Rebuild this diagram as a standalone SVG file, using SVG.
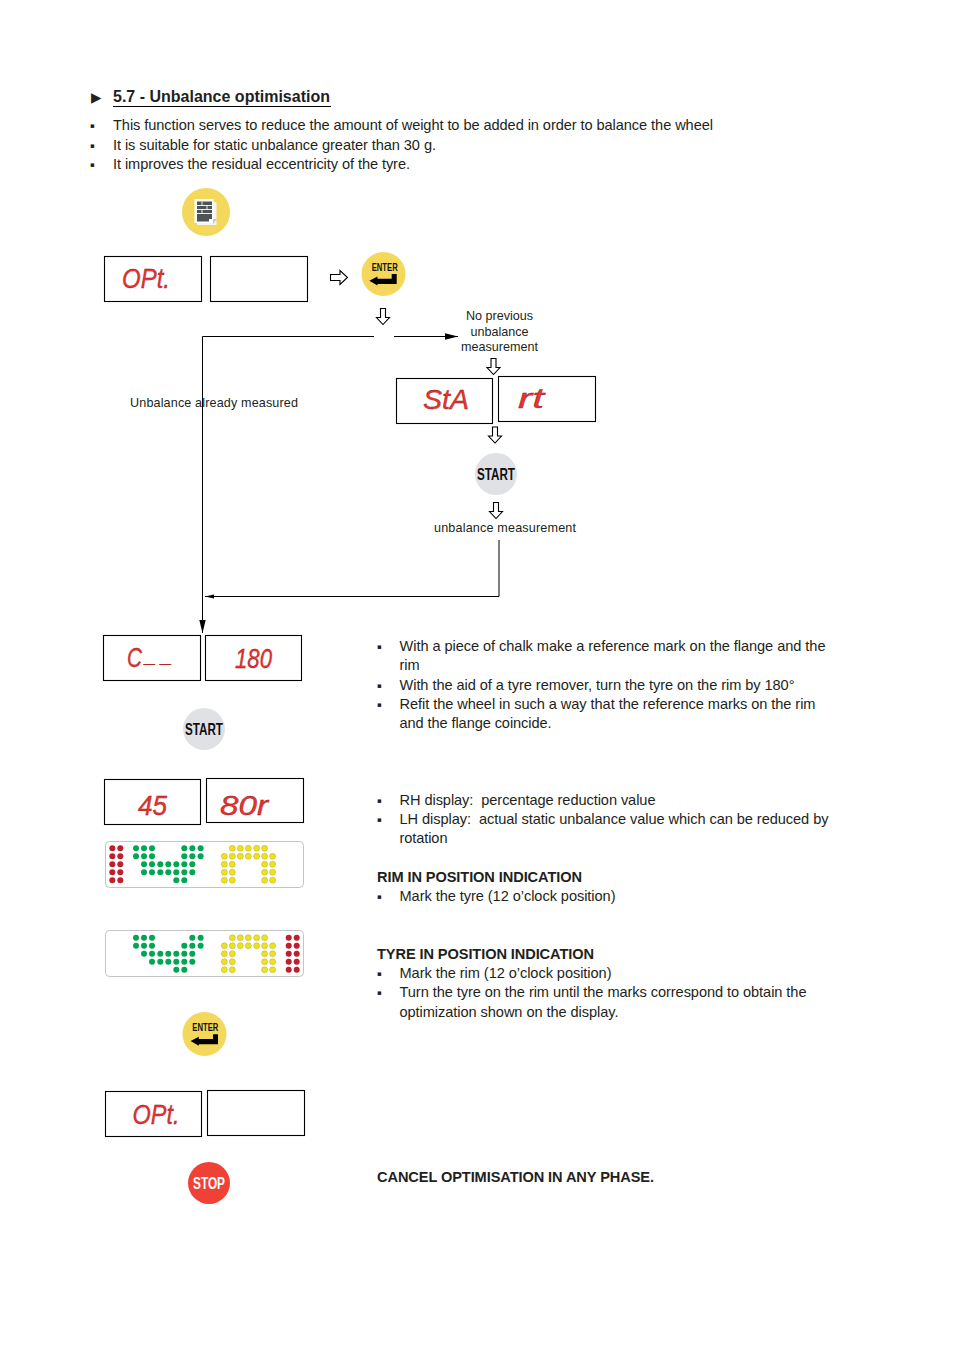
<svg xmlns="http://www.w3.org/2000/svg" xmlns:xlink="http://www.w3.org/1999/xlink" width="954" height="1351" viewBox="0 0 954 1351">
<style>
text{font-family:"Liberation Sans",Arial,sans-serif;fill:#231f20}
.b{font-size:14.6px;white-space:pre}
.s{font-size:12.6px}
.h{font-size:14.6px;font-weight:bold}
.bu{font-size:7px;font-family:"DejaVu Sans",sans-serif}
.box{fill:#fff;stroke:#000;stroke-width:1.1}
.led{font-style:italic;font-size:28px;fill:#e8322c;stroke:#8c1d1d;stroke-width:.35}
.btn{font-weight:bold;fill:#111}
.conn{fill:none;stroke:#000;stroke-width:1}
.hol{fill:#fff;stroke:#000;stroke-width:1.1;stroke-linejoin:miter}
.yc{fill:#f3d85c}
.gc{fill:#dfe1e4}
.pan{fill:#fff;stroke:#c4c4c4;stroke-width:1}
.r{fill:#bd1f2d}.g{fill:#00a651}.y{fill:#eee21c;stroke:#b5ad3a;stroke-width:.5}
</style>
<defs>
<marker id="ah" markerUnits="userSpaceOnUse" markerWidth="14" markerHeight="8" refX="13" refY="4" orient="auto"><path d="M0 .8L13 4L0 7.2Z" fill="#000"/></marker>
<marker id="as" markerUnits="userSpaceOnUse" markerWidth="10" markerHeight="6" refX="9" refY="3" orient="auto"><path d="M0 1L9 3L0 5Z" fill="#000"/></marker>
<path id="hd" d="M-2.500 0V9H-6.500L0 16L6.500 9H2.500V0Z"/>
<path id="ent" d="M7.700 -4H12.700V6H-6.500V7.500L-14.700 2.700L-6.500 -1.500V.7H7.700Z" fill="#000"/>
</defs>

<g id="header">
<text x="91" y="102" style="font-size:13.500px;font-family:'DejaVu Sans',sans-serif">▶</text>
<text x="113" y="102" style="font-size:16px;font-weight:bold" textLength="217">5.7 - Unbalance optimisation</text>
<line x1="113" y1="106.500" x2="331" y2="106.500" stroke="#000" stroke-width="1"/>
<text class="bu" x="90" y="128">▪</text><text class="b" x="113" y="130" textLength="600">This function serves to reduce the amount of weight to be added in order to balance the wheel</text>
<text class="bu" x="90" y="148">▪</text><text class="b" x="113" y="150" textLength="323">It is suitable for static unbalance greater than 30 g.</text>
<text class="bu" x="90" y="167">▪</text><text class="b" x="113" y="169" textLength="297">It improves the residual eccentricity of the tyre.</text>
</g>

<g id="connectors">
<path class="conn" d="M374 336.500H202.500V633" marker-end="url(#ah)"/>
<path class="conn" d="M394 336.500H458" marker-end="url(#ah)"/>
<path class="conn" d="M499 540V596.500H205" marker-end="url(#as)"/>
<use xlink:href="#hd" class="hol" x="383" y="308.500"/>
<use xlink:href="#hd" class="hol" x="493.500" y="358.500"/>
<use xlink:href="#hd" class="hol" x="495" y="427"/>
<use xlink:href="#hd" class="hol" x="496" y="502.500"/>
<path class="hol" d="M330.500 274.500H340V270.500L347.500 277.500L340 284.500V280.500H330.500Z"/>
</g>

<g id="menu-button">
<circle class="yc" cx="206" cy="212" r="24"/>
<path d="M197 202H216.500V225H197Z" fill="#f4f4f2"/>
<rect x="194.500" y="199" width="19" height="24" fill="#fff"/>
<path d="M213 219H217L213 224Z" fill="#c5c8ca"/>
<rect x="197" y="201.500" width="15" height="20" fill="#4d5356"/>
<path d="M197 205.500H212M197 209.500H212M197 213.500H212M202 201.500V205.500M207 205.500V209.500M202 209.500V213.500" stroke="#fff" stroke-width=".9" fill="none"/>
<path d="M209 219H212V222H209Z" fill="#fff"/>
</g>
<g id="display-opt1"><rect class="box" x="104.500" y="256.500" width="97" height="45"/><rect class="box" x="210.500" y="256.500" width="97" height="45"/><text class="led" x="122" y="288" textLength="48" lengthAdjust="spacingAndGlyphs">OPt.</text></g>
<g id="enter-1"><circle class="yc" cx="383.500" cy="274" r="22"/><text class="btn" x="371.700" y="270.500" style="font-size:10px" textLength="26" lengthAdjust="spacingAndGlyphs">ENTER</text><use xlink:href="#ent" x="384" y="278"/></g>

<g id="no-previous"><text class="s" x="499.500" y="320" text-anchor="middle">No previous</text><text class="s" x="499.500" y="336" text-anchor="middle">unbalance</text><text class="s" x="499.500" y="351" text-anchor="middle">measurement</text></g>
<g id="already"><text class="s" x="130" y="407" textLength="168">Unbalance already measured</text></g>
<g id="display-start"><rect class="box" x="396.500" y="378.500" width="96" height="45"/><rect class="box" x="498.500" y="376.500" width="97" height="45"/><text class="led" x="423" y="409" textLength="46" lengthAdjust="spacingAndGlyphs">StA</text><text class="led" x="518" y="408" textLength="26" lengthAdjust="spacingAndGlyphs">rt</text></g>
<g id="start-1"><circle class="gc" cx="496" cy="474" r="21"/><text class="btn" x="477" y="480" style="font-size:16.500px" textLength="38" lengthAdjust="spacingAndGlyphs">START</text></g>
<g id="measure"><text class="s" x="434" y="532" textLength="142">unbalance measurement</text></g>

<g id="display-c180"><rect class="box" x="103.500" y="635.500" width="97" height="45"/><rect class="box" x="205.500" y="635.500" width="96" height="45"/><text class="led" x="127" y="667" textLength="15" lengthAdjust="spacingAndGlyphs">C</text><text class="led" x="145" y="662" style="font-size:20px" textLength="27">_ _</text><text class="led" x="235" y="668" textLength="37" lengthAdjust="spacingAndGlyphs">180</text></g>
<g id="start-2"><circle class="gc" cx="204" cy="729" r="21"/><text class="btn" x="185" y="735" style="font-size:16.500px" textLength="38" lengthAdjust="spacingAndGlyphs">START</text></g>
<g id="display-45"><rect class="box" x="104.500" y="779.500" width="96" height="45"/><rect class="box" x="206.500" y="778.500" width="97" height="44"/><text class="led" x="138" y="815" textLength="29" lengthAdjust="spacingAndGlyphs">45</text><text class="led" x="220" y="815" textLength="48" lengthAdjust="spacingAndGlyphs">80r</text></g>

<g id="led-panel-1">
<rect class="pan" x="105.500" y="841.500" width="198" height="46" rx="4"/>
<g class="r"><circle cx="112.300" cy="848.300" r="3"/><circle cx="120.300" cy="848.300" r="3"/><circle cx="112.300" cy="856.300" r="3"/><circle cx="120.300" cy="856.300" r="3"/><circle cx="112.300" cy="864.300" r="3"/><circle cx="120.300" cy="864.300" r="3"/><circle cx="112.300" cy="872.300" r="3"/><circle cx="120.300" cy="872.300" r="3"/><circle cx="112.300" cy="880.300" r="3"/><circle cx="120.300" cy="880.300" r="3"/></g>
<g class="g"><circle cx="136" cy="848.300" r="3"/><circle cx="144" cy="848.300" r="3"/><circle cx="152" cy="848.300" r="3"/><circle cx="184.300" cy="848.300" r="3"/><circle cx="192.300" cy="848.300" r="3"/><circle cx="200.600" cy="848.300" r="3"/>
<circle cx="136" cy="856.300" r="3"/><circle cx="144" cy="856.300" r="3"/><circle cx="152" cy="856.300" r="3"/><circle cx="184.300" cy="856.300" r="3"/><circle cx="192.300" cy="856.300" r="3"/><circle cx="200.600" cy="856.300" r="3"/>
<circle cx="144" cy="864.300" r="3"/><circle cx="152" cy="864.300" r="3"/><circle cx="160.300" cy="864.300" r="3"/><circle cx="168.300" cy="864.300" r="3"/><circle cx="176.300" cy="864.300" r="3"/><circle cx="184.300" cy="864.300" r="3"/><circle cx="192.300" cy="864.300" r="3"/>
<circle cx="144" cy="872.300" r="3"/><circle cx="152" cy="872.300" r="3"/><circle cx="160.300" cy="872.300" r="3"/><circle cx="168.300" cy="872.300" r="3"/><circle cx="176.300" cy="872.300" r="3"/><circle cx="184.300" cy="872.300" r="3"/><circle cx="192.300" cy="872.300" r="3"/>
<circle cx="176.300" cy="880.300" r="3"/><circle cx="184.300" cy="880.300" r="3"/></g>
<g class="y"><circle cx="232.300" cy="848.300" r="3"/><circle cx="240.300" cy="848.300" r="3"/><circle cx="248.300" cy="848.300" r="3"/><circle cx="256.600" cy="848.300" r="3"/><circle cx="264.600" cy="848.300" r="3"/>
<circle cx="224.300" cy="856.300" r="3"/><circle cx="232.300" cy="856.300" r="3"/><circle cx="240.300" cy="856.300" r="3"/><circle cx="248.300" cy="856.300" r="3"/><circle cx="256.600" cy="856.300" r="3"/><circle cx="264.600" cy="856.300" r="3"/><circle cx="272.600" cy="856.300" r="3"/>
<circle cx="224.300" cy="864.300" r="3"/><circle cx="232.300" cy="864.300" r="3"/><circle cx="264.600" cy="864.300" r="3"/><circle cx="272.600" cy="864.300" r="3"/>
<circle cx="224.300" cy="872.300" r="3"/><circle cx="232.300" cy="872.300" r="3"/><circle cx="264.600" cy="872.300" r="3"/><circle cx="272.600" cy="872.300" r="3"/>
<circle cx="224.300" cy="880.300" r="3"/><circle cx="232.300" cy="880.300" r="3"/><circle cx="264.600" cy="880.300" r="3"/><circle cx="272.600" cy="880.300" r="3"/></g>
</g>

<g id="led-panel-2">
<rect class="pan" x="105.500" y="930.500" width="198" height="46" rx="4"/>
<g class="g"><circle cx="136" cy="937.700" r="3"/><circle cx="144" cy="937.700" r="3"/><circle cx="152" cy="937.700" r="3"/><circle cx="192.300" cy="937.700" r="3"/><circle cx="200.600" cy="937.700" r="3"/>
<circle cx="136" cy="945.700" r="3"/><circle cx="144" cy="945.700" r="3"/><circle cx="152" cy="945.700" r="3"/><circle cx="184.300" cy="945.700" r="3"/><circle cx="192.300" cy="945.700" r="3"/><circle cx="200.600" cy="945.700" r="3"/>
<circle cx="144" cy="953.700" r="3"/><circle cx="152" cy="953.700" r="3"/><circle cx="160.300" cy="953.700" r="3"/><circle cx="168.300" cy="953.700" r="3"/><circle cx="176.300" cy="953.700" r="3"/><circle cx="184.300" cy="953.700" r="3"/><circle cx="192.300" cy="953.700" r="3"/>
<circle cx="152" cy="961.700" r="3"/><circle cx="160.300" cy="961.700" r="3"/><circle cx="168.300" cy="961.700" r="3"/><circle cx="176.300" cy="961.700" r="3"/><circle cx="184.300" cy="961.700" r="3"/><circle cx="192.300" cy="961.700" r="3"/>
<circle cx="176.300" cy="969.700" r="3"/><circle cx="184.300" cy="969.700" r="3"/></g>
<g class="y"><circle cx="232.300" cy="937.700" r="3"/><circle cx="240.300" cy="937.700" r="3"/><circle cx="248.300" cy="937.700" r="3"/><circle cx="256.600" cy="937.700" r="3"/><circle cx="264.600" cy="937.700" r="3"/>
<circle cx="224.300" cy="945.700" r="3"/><circle cx="232.300" cy="945.700" r="3"/><circle cx="240.300" cy="945.700" r="3"/><circle cx="248.300" cy="945.700" r="3"/><circle cx="256.600" cy="945.700" r="3"/><circle cx="264.600" cy="945.700" r="3"/><circle cx="272.600" cy="945.700" r="3"/>
<circle cx="224.300" cy="953.700" r="3"/><circle cx="232.300" cy="953.700" r="3"/><circle cx="264.600" cy="953.700" r="3"/><circle cx="272.600" cy="953.700" r="3"/>
<circle cx="224.300" cy="961.700" r="3"/><circle cx="232.300" cy="961.700" r="3"/><circle cx="264.600" cy="961.700" r="3"/><circle cx="272.600" cy="961.700" r="3"/>
<circle cx="224.300" cy="969.700" r="3"/><circle cx="232.300" cy="969.700" r="3"/><circle cx="264.600" cy="969.700" r="3"/><circle cx="272.600" cy="969.700" r="3"/></g>
<g class="r"><circle cx="288.700" cy="937.700" r="3"/><circle cx="296.700" cy="937.700" r="3"/><circle cx="288.700" cy="945.700" r="3"/><circle cx="296.700" cy="945.700" r="3"/><circle cx="288.700" cy="953.700" r="3"/><circle cx="296.700" cy="953.700" r="3"/><circle cx="288.700" cy="961.700" r="3"/><circle cx="296.700" cy="961.700" r="3"/><circle cx="288.700" cy="969.700" r="3"/><circle cx="296.700" cy="969.700" r="3"/></g>
</g>

<g id="enter-2"><circle class="yc" cx="204.500" cy="1034" r="22"/><text class="btn" x="192.300" y="1030.500" style="font-size:10px" textLength="26" lengthAdjust="spacingAndGlyphs">ENTER</text><use xlink:href="#ent" x="205.300" y="1038.300"/></g>
<g id="display-opt2"><rect class="box" x="105.500" y="1091.500" width="96" height="45"/><rect class="box" x="207.500" y="1090.500" width="97" height="45"/><text class="led" x="132.500" y="1124" textLength="47" lengthAdjust="spacingAndGlyphs">OPt.</text></g>
<g id="stop"><circle cx="209" cy="1183" r="21" fill="#f04136"/><text class="btn" x="193" y="1189" style="font-size:16.500px;fill:#fff" textLength="32" lengthAdjust="spacingAndGlyphs">STOP</text></g>

<g id="notes">
<text class="bu" x="377" y="649">▪</text><text class="b" x="399.500" y="651" textLength="426">With a piece of chalk make a reference mark on the flange and the</text>
<text class="b" x="399.500" y="670">rim</text>
<text class="bu" x="377" y="688">▪</text><text class="b" x="399.500" y="690" textLength="395">With the aid of a tyre remover, turn the tyre on the rim by 180°</text>
<text class="bu" x="377" y="707">▪</text><text class="b" x="399.500" y="709" textLength="416">Refit the wheel in such a way that the reference marks on the rim</text>
<text class="b" x="399.500" y="728" textLength="152">and the flange coincide.</text>
<text class="bu" x="377" y="803">▪</text><text class="b" x="399.500" y="805" textLength="256">RH display:  percentage reduction value</text>
<text class="bu" x="377" y="822">▪</text><text class="b" x="399.500" y="824" textLength="429">LH display:  actual static unbalance value which can be reduced by</text>
<text class="b" x="399.500" y="843" textLength="48">rotation</text>
<text class="h" x="377" y="882" textLength="205">RIM IN POSITION INDICATION</text>
<text class="bu" x="377" y="899">▪</text><text class="b" x="399.500" y="901" textLength="216">Mark the tyre (12 o’clock position)</text>
<text class="h" x="377" y="959" textLength="217">TYRE IN POSITION INDICATION</text>
<text class="bu" x="377" y="976">▪</text><text class="b" x="399.500" y="978" textLength="212">Mark the rim (12 o’clock position)</text>
<text class="bu" x="377" y="995">▪</text><text class="b" x="399.500" y="997" textLength="407">Turn the tyre on the rim until the marks correspond to obtain the</text>
<text class="b" x="399.500" y="1017" textLength="219">optimization shown on the display.</text>
<text class="h" x="377" y="1182" textLength="277">CANCEL OPTIMISATION IN ANY PHASE.</text>
</g>
</svg>
